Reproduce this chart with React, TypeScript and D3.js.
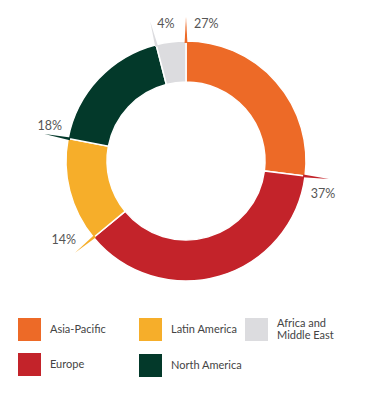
import { arc, pie } from 'd3'

type Slice = { region: string; share: number; color: string }

const regions = ['Asia-Pacific', 'Europe', 'Latin America', 'North America', 'Africa and Middle East']
const shares = [27, 37, 14, 18, 4]
const colors = ['#ED6A27', '#C3232A', '#F6AE2A', '#03392A', '#DCDCDF']

// label anchor offsets relative to the leader tip
const labelOffsets: [number, number, 'start' | 'end'][] = [
  [8, 11, 'start'],
  [-18, 18.5, 'start'],
  [1, -9, 'end'],
  [-7, -4.5, 'start'],
  [7, 6, 'start'],
]

const legendItems = [
  { index: 0, col: 0, row: 0, lines: ['Asia-Pacific'] },
  { index: 2, col: 1, row: 0, lines: ['Latin America'] },
  { index: 4, col: 2, row: 0, lines: ['Africa and', 'Middle East'] },
  { index: 1, col: 0, row: 1, lines: ['Europe'] },
  { index: 3, col: 1, row: 1, lines: ['North America'] },
]

const width = 370
const height = 398
const cx = 186
const cy = 161
const outerRadius = 120
const innerRadius = 79
const leaderRadius = 144

const legendCols = [18, 139, 245]
const legendRows = [318, 353]

function App() {
  const data: Slice[] = regions.map((region, i) => ({ region, share: shares[i], color: colors[i] }))

  const arcs = pie<Slice>()
    .value((d) => d.share)
    .sort(null)(data)

  const ringArc = arc<any>().innerRadius(innerRadius).outerRadius(outerRadius)

  const polar = (angle: number, r: number): [number, number] => [Math.sin(angle) * r, -Math.cos(angle) * r]

  return (
    <div style={{ position: 'absolute', left: 0, top: 0 }}>
      <svg width={width} height={height} viewBox={`0 0 ${width} ${height}`} style={{ display: 'block' }}>
        <rect width={width} height={height} fill="#ffffff" />
        <g transform={`translate(${cx}, ${cy})`}>
          {arcs.map((a) => (
            <path key={a.data.region} d={ringArc(a) ?? ''} fill={a.data.color} stroke="#ffffff" strokeWidth={1.5} />
          ))}

          {arcs.map((a, i) => {
            const angle = a.startAngle
            const [bx1, by1] = polar(angle - 0.012, outerRadius - 2)
            const [bx2, by2] = polar(angle + 0.012, outerRadius - 2)
            const [tx, ty] = polar(angle, leaderRadius)
            const [dx, dy, anchor] = labelOffsets[i]

            return (
              <g key={`${a.data.region}-label`}>
                <path d={`M${bx1},${by1}L${tx},${ty}L${bx2},${by2}Z`} fill={a.data.color} />
                <text
                  x={tx + dx}
                  y={ty + dy}
                  textAnchor={anchor}
                  fontFamily="Lato, sans-serif"
                  fontSize={12.5}
                  fill="#555555"
                >
                  {`${a.data.share}%`}
                </text>
              </g>
            )
          })}
        </g>

        {legendItems.map((item) => {
          const x = legendCols[item.col]
          const y = legendRows[item.row] + (item.row === 1 && item.col === 1 ? 1 : 0)

          return (
            <g key={`${item.index}-legend`}>
              <rect x={x} y={y} width={23} height={23} fill={colors[item.index]} />
              {item.lines.map((lineText, li) => (
                <text
                  key={lineText}
                  x={x + 32}
                  y={y + 11.5 + (li - (item.lines.length - 1) / 2) * 12}
                  dy="0.35em"
                  fontFamily="Lato, sans-serif"
                  fontSize={11}
                  fill="#444444"
                >
                  {lineText}
                </text>
              ))}
            </g>
          )
        })}
      </svg>
    </div>
  )
}

export default App
